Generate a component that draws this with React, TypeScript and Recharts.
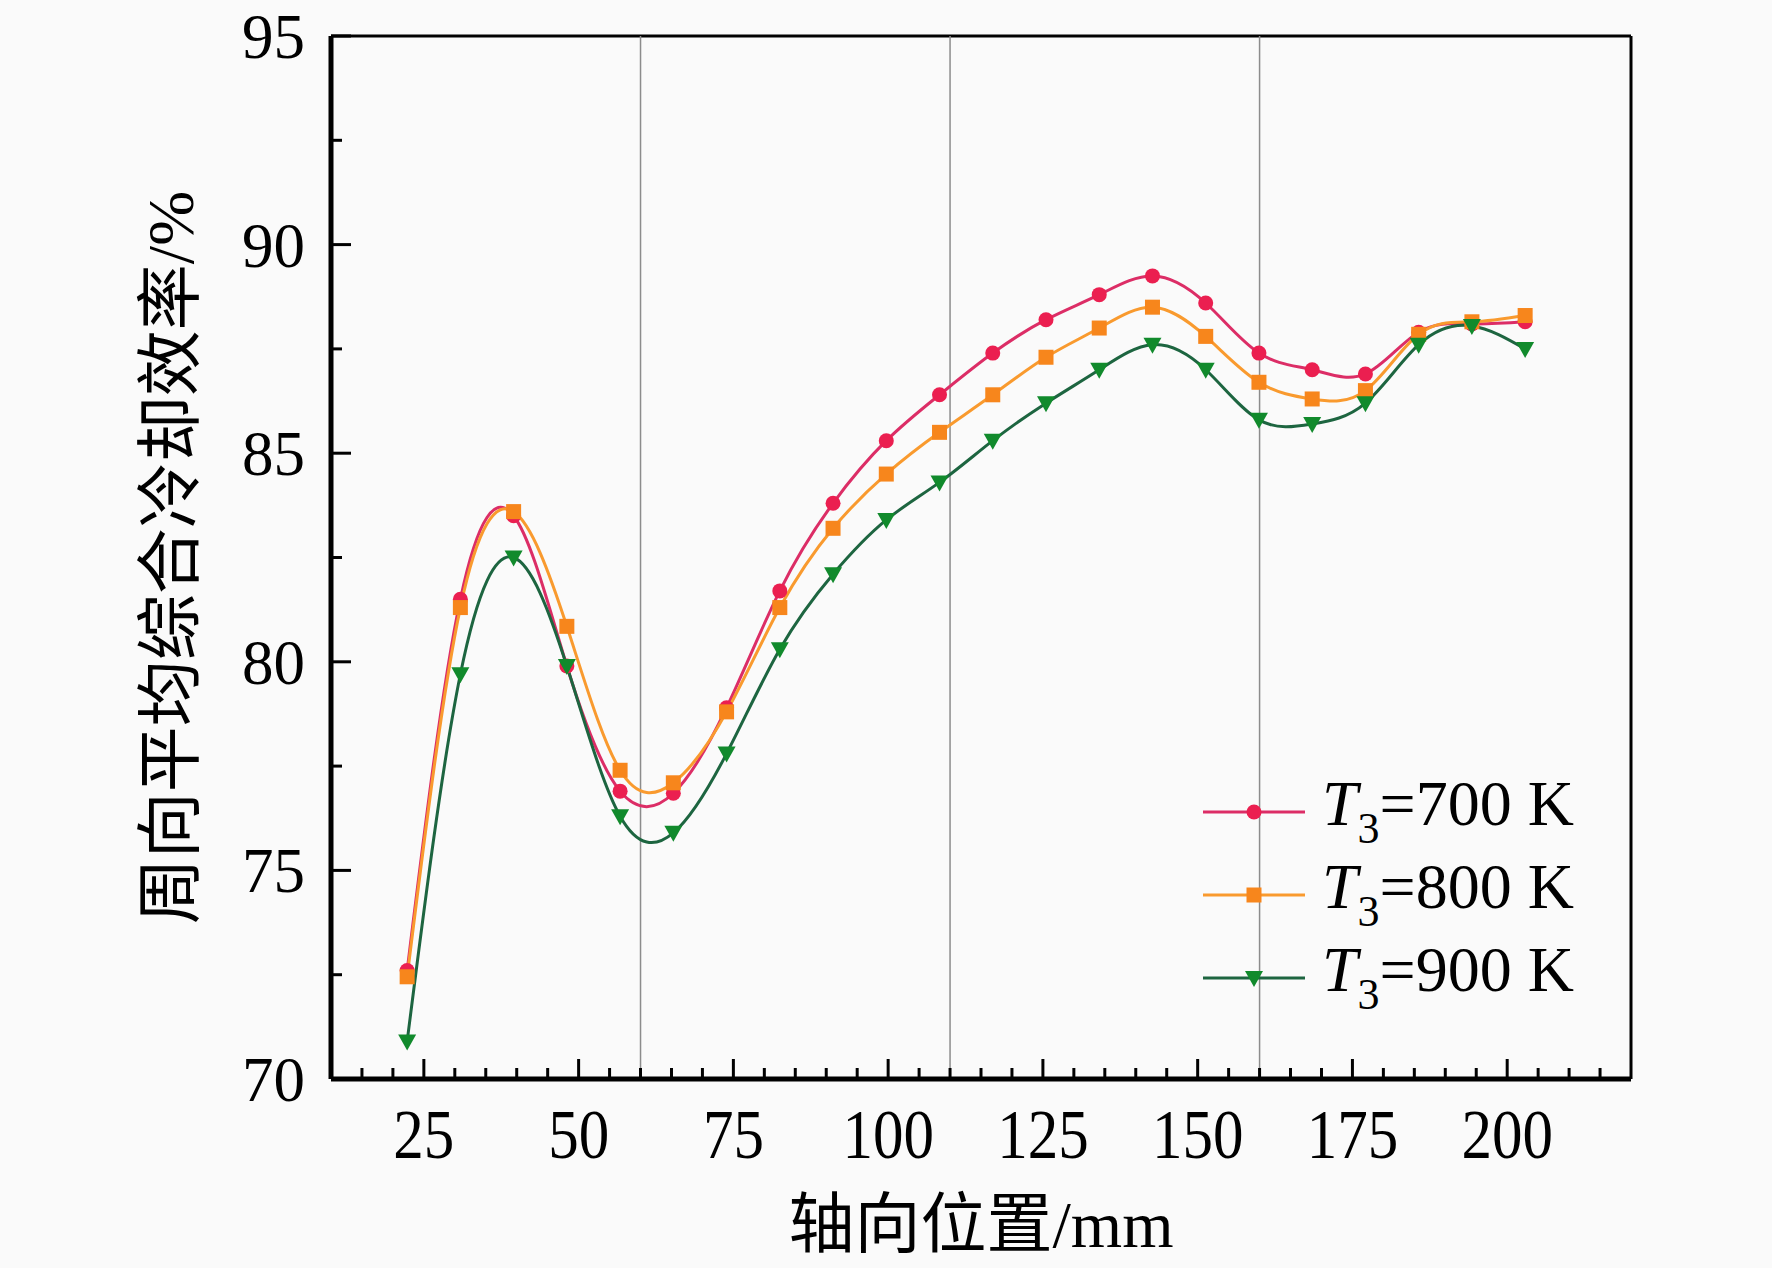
import { LineChart, Line, XAxis, YAxis, ReferenceLine, Legend } from "recharts";

// axial positions (mm) of the sampled planes
const positions = [
  22.3, 30.9, 39.5, 48.1, 56.7, 65.3, 73.9, 82.5, 91.1, 99.7, 108.3,
  116.9, 125.5, 134.1, 142.7, 151.3, 159.9, 168.5, 177.1, 185.7, 194.3, 202.9,
];

// circumferential-averaged overall cooling effectiveness (%)
const eta700 = [
  72.6, 81.5, 83.5, 79.9, 76.9, 76.85, 78.9, 81.7, 83.8, 85.3, 86.4,
  87.4, 88.2, 88.8, 89.25, 88.6, 87.4, 87.0, 86.9, 87.9, 88.1, 88.15,
];
const eta800 = [
  72.45, 81.3, 83.6, 80.85, 77.4, 77.1, 78.8, 81.3, 83.2, 84.5, 85.5,
  86.4, 87.3, 88.0, 88.5, 87.8, 86.7, 86.3, 86.5, 87.85, 88.15, 88.3,
];
const eta900 = [
  70.9, 79.7, 82.5, 79.9, 76.3, 75.9, 77.8, 80.3, 82.1, 83.4, 84.3,
  85.3, 86.2, 87.0, 87.6, 87.0, 85.8, 85.7, 86.2, 87.6, 88.05, 87.5,
];

const xTicks = [15, 20, 25, 30, 35, 40, 45, 50, 55, 60, 65, 70, 75, 80, 85, 90, 95, 100, 105, 110, 115, 120, 125, 130, 135, 140, 145, 150, 155, 160, 165, 170, 175, 180, 185, 190, 195, 200, 205, 210, 215];
const yTicks = [70, 72.5, 75, 77.5, 80, 82.5, 85, 87.5, 90, 92.5, 95];
const dividers = [60, 110, 160];
const xDomain = [10, 220];
const yDomain = [70, 95];

const series = [
  { key: "t700", label: "700", line: "#dc2d66", marker: "#eb1f50", shape: "circle" },
  { key: "t800", label: "800", line: "#f99a2e", marker: "#f7861c", shape: "square" },
  { key: "t900", label: "900", line: "#1d6540", marker: "#118a2c", shape: "triangle" },
];

const data = positions.map((x, i) => ({ x, t700: eta700[i], t800: eta800[i], t900: eta900[i] }));

const SERIF = '"Liberation Serif", "Times New Roman", serif';
const TITLE_FONT = '"Liberation Serif", "Noto Sans CJK SC", serif';
const TICK_FS = 61;
const STRETCH = 1.13;
const X_MARGIN = 10;
const Y_MARGIN = 10;

function Marker({ shape, color, cx, cy }: { shape: string; color: string; cx: number; cy: number }) {
  if (shape === "circle") return <circle cx={cx} cy={cy} r={7.5} fill={color} />;
  if (shape === "square") return <rect x={cx - 7.5} y={cy - 7.5} width={15} height={15} fill={color} />;
  return <path d={`M${cx - 9},${cy - 7} L${cx + 9},${cy - 7} L${cx},${cy + 9} Z`} fill={color} />;
}

function XTick(props: any) {
  const { x, y, payload } = props;
  const v = payload.value;
  const major = v % 25 === 0;
  const axisY = y - X_MARGIN;
  return (
    <g>
      <line x1={x} x2={x} y1={axisY} y2={axisY - (major ? 20 : 11)} stroke="#000" strokeWidth={3} />
      {major && (
        <text
          transform={`translate(${x},${axisY + 79}) scale(1,${STRETCH})`}
          textAnchor="middle"
          fontFamily={SERIF}
          fontSize={TICK_FS}
          fill="#000"
        >
          {v}
        </text>
      )}
    </g>
  );
}

function YTick(props: any) {
  const { x, y, payload } = props;
  const v = payload.value;
  const major = v % 5 === 0;
  const axisX = x + Y_MARGIN;
  return (
    <g>
      <line x1={axisX} x2={axisX + (major ? 20 : 11)} y1={y} y2={y} stroke="#000" strokeWidth={3} />
      {major && (
        <text x={axisX - 26} y={y} dy="0.35em" textAnchor="end" fontFamily={SERIF} fontSize={63} fill="#000">
          {v}
        </text>
      )}
    </g>
  );
}

function renderLegend() {
  return (
    <div>
      {series.map((s) => (
        <div key={s.key} style={{ display: "flex", alignItems: "center", height: 83 }}>
          <svg width={119} height={30}>
            <line x1={0} x2={102} y1={15} y2={15} stroke={s.line} strokeWidth={3} />
            <Marker shape={s.shape} color={s.marker} cx={51} cy={15} />
          </svg>
          <span style={{ fontFamily: SERIF, fontSize: 64, color: "#000", whiteSpace: "nowrap", lineHeight: 1 }}>
            <i>T</i>
            <sub style={{ fontSize: 44, verticalAlign: "-0.4em" }}>3</sub>={s.label} K
          </span>
        </div>
      ))}
    </div>
  );
}

export default function App() {
  return (
    <div style={{ position: "absolute", left: 0, top: 0, width: 1772, height: 1268, background: "#fafafa" }}>
      <LineChart width={1772} height={1268} data={data} margin={{ top: 36, right: 141, left: 100, bottom: 0 }}>
        <XAxis
          dataKey="x"
          type="number"
          domain={xDomain}
          ticks={xTicks}
          interval={0}
          allowDataOverflow
          height={189}
          tickSize={0}
          tickMargin={X_MARGIN}
          tick={<XTick />}
          axisLine={{ stroke: "#000", strokeWidth: 5 }}
          label={{ value: "轴向位置/mm", position: "center", dy: 50, fontSize: 66, fontFamily: TITLE_FONT, fill: "#000" }}
        />
        <YAxis
          type="number"
          domain={yDomain}
          ticks={yTicks}
          interval={0}
          allowDataOverflow
          width={231}
          tickSize={0}
          tickMargin={Y_MARGIN}
          tick={<YTick />}
          axisLine={{ stroke: "#000", strokeWidth: 5 }}
          label={{ value: "周向平均综合冷却效率/%", angle: -90, position: "center", dx: -46, fontSize: 66, fontFamily: TITLE_FONT, fill: "#000" }}
        />
        {/* frame: top and right edges */}
        <ReferenceLine y={yDomain[1]} stroke="#000" strokeWidth={3} />
        <ReferenceLine x={xDomain[1]} stroke="#000" strokeWidth={3} />
        {dividers.map((d) => (
          <ReferenceLine key={d} x={d} stroke="#8c8c8c" strokeWidth={1.5} />
        ))}
        {series.map((s) => (
          <Line
            key={s.key}
            dataKey={s.key}
            type="natural"
            stroke={s.line}
            strokeWidth={3}
            isAnimationActive={false}
            dot={(p: any) => <Marker key={`${s.key}-${p.index}`} shape={s.shape} color={s.marker} cx={p.cx} cy={p.cy} />}
            activeDot={false}
          />
        ))}
        <Legend
          layout="vertical"
          verticalAlign="middle"
          align="center"
          content={renderLegend}
          wrapperStyle={{ left: 1203, top: 770, width: 440, height: 250 }}
        />
      </LineChart>
    </div>
  );
}
